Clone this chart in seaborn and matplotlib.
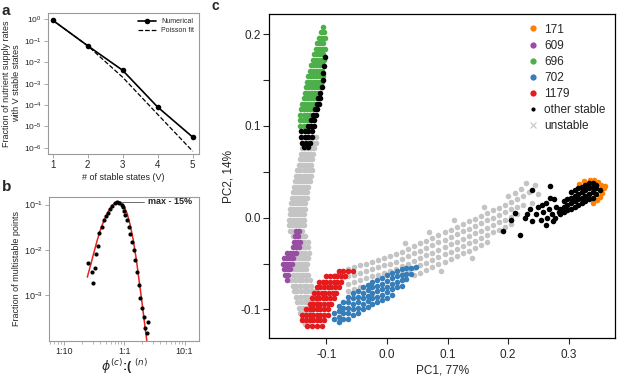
import numpy as np
import pandas as pd
import matplotlib
matplotlib.use('Agg')
import matplotlib.pyplot as plt
from matplotlib.lines import Line2D
from matplotlib.ticker import FixedLocator, LogLocator, NullFormatter
import seaborn as sns

# ---- panel a: fraction of supply rates with V stable states
n_states = [1, 2, 3, 4, 5]
frac_numerical = [0.92, 0.059, 0.0042, 8.1e-5, 3.2e-6]
frac_poisson = [0.92, 0.059, 0.0020, 3.7e-5, 7.0e-7]

# ---- panel b: fraction of multistable points vs supply ratio
ratio_pts = [0.247, 0.288, 0.310, 0.330, 0.344, 0.366, 0.390, 0.433, 0.466, 0.502,
             0.536, 0.586, 0.640, 0.710, 0.774, 0.836, 0.904, 0.951, 1.0, 1.052,
             1.107, 1.180, 1.256, 1.340, 1.429, 1.521, 1.622, 1.730, 1.841, 1.963,
             2.094, 2.228, 2.377, 2.529]
frac_pts = [0.00525, 0.00331, 0.00182, 0.00398, 0.00813, 0.0123, 0.0234, 0.0316, 0.0457, 0.0562,
            0.0661, 0.0794, 0.0933, 0.107, 0.112, 0.110, 0.100, 0.0871, 0.0741, 0.0589,
            0.0457, 0.0316, 0.0224, 0.0151, 0.0100, 0.00603, 0.00331, 0.00170, 0.000851, 0.000513,
            0.000339, 0.000186, 0.000145, 0.000251]
ratio_fit = [0.245, 0.282, 0.316, 0.355, 0.398, 0.447, 0.501, 0.562, 0.631, 0.708, 0.794,
             0.891, 1.0, 1.122, 1.259, 1.413, 1.585, 1.778, 1.995, 2.239, 2.399]
frac_fit = [0.00251, 0.00501, 0.00891, 0.0158, 0.0263, 0.0398, 0.0562, 0.0759, 0.0955, 0.110, 0.117,
            0.112, 0.0912, 0.0631, 0.0355, 0.0166, 0.00631, 0.00200, 0.000631, 0.000178, 0.0000891]
ratio_ticks = [0.1, 1, 10]
ratio_labels = ['1:10', '1:1', '10:1']

# ---- panel c: PCA of states, point clouds
# rows: (PC2, [PC1 values])  /  cols: (PC1, [PC2 values])
unstable_rows = [
    (0.088, [-0.133, -0.128, -0.123, -0.118]),
    (0.082, [-0.137, -0.132, -0.127, -0.122, -0.117]),
    (0.076, [-0.140, -0.135, -0.130, -0.125, -0.120]),
    (0.070, [-0.142, -0.137, -0.132, -0.127, -0.122]),
    (0.064, [-0.144, -0.139, -0.134, -0.129, -0.124]),
    (0.058, [-0.146, -0.141, -0.136, -0.131, -0.126]),
    (0.052, [-0.148, -0.143, -0.138, -0.133, -0.128, -0.124]),
    (0.046, [-0.150, -0.145, -0.140, -0.135, -0.130, -0.126]),
    (0.040, [-0.152, -0.147, -0.142, -0.137, -0.132, -0.128]),
    (0.034, [-0.154, -0.149, -0.144, -0.139, -0.134, -0.130]),
    (0.028, [-0.156, -0.151, -0.146, -0.141, -0.136, -0.132]),
    (0.022, [-0.157, -0.152, -0.147, -0.142, -0.137, -0.133]),
    (0.016, [-0.159, -0.154, -0.149, -0.144, -0.139, -0.135]),
    (0.010, [-0.160, -0.155, -0.150, -0.145, -0.140, -0.136]),
    (0.004, [-0.161, -0.156, -0.151, -0.146, -0.141, -0.137]),
    (-0.002, [-0.162, -0.157, -0.152, -0.147, -0.142, -0.138]),
    (-0.008, [-0.162, -0.157, -0.152, -0.147, -0.142, -0.138]),
    (-0.014, [-0.160, -0.155, -0.150, -0.145, -0.140]),
    (-0.020, [-0.156, -0.151, -0.146, -0.141, -0.136]),
    (-0.026, [-0.152, -0.147, -0.142, -0.137, -0.131]),
    (-0.032, [-0.151, -0.146, -0.141, -0.136, -0.130]),
    (-0.038, [-0.150, -0.145, -0.140, -0.135, -0.129]),
    (-0.044, [-0.150, -0.145, -0.140, -0.135, -0.130]),
    (-0.050, [-0.152, -0.147, -0.142, -0.137, -0.132]),
    (-0.056, [-0.154, -0.149, -0.144, -0.139, -0.134]),
    (-0.062, [-0.156, -0.151, -0.146, -0.141, -0.136, -0.131]),
    (-0.068, [-0.158, -0.152, -0.146, -0.140, -0.134, -0.128]),
    (-0.074, [-0.156, -0.150, -0.144, -0.138, -0.132, -0.126]),
    (-0.080, [-0.154, -0.148, -0.142, -0.136, -0.130, -0.124, -0.118]),
    (-0.086, [-0.150, -0.144, -0.138, -0.132, -0.126, -0.120]),
    (-0.092, [-0.148, -0.142, -0.136, -0.130, -0.124, -0.118]),
    (-0.098, [-0.145, -0.139, -0.133, -0.127, -0.121]),
    (-0.104, [-0.143, -0.137, -0.131, -0.125]),
    (-0.110, [-0.140, -0.134, -0.128]),
    (-0.116, [-0.136, -0.130]),
]
unstable_cols = [
    (-0.085, [-0.062, -0.070]), (-0.075, [-0.058, -0.066]),
    (-0.065, [-0.056, -0.064, -0.072, -0.080]), (-0.055, [-0.054, -0.062, -0.070, -0.078]),
    (-0.045, [-0.052, -0.060, -0.068, -0.076]), (-0.035, [-0.050, -0.058, -0.066]),
    (-0.025, [-0.048, -0.056, -0.064]), (-0.015, [-0.046, -0.054, -0.062]),
    (-0.005, [-0.044, -0.052, -0.060]), (0.005, [-0.042, -0.050, -0.058]),
    (0.015, [-0.040, -0.048, -0.056]), (0.025, [-0.037, -0.045, -0.053, -0.061]),
    (0.035, [-0.034, -0.042, -0.050, -0.058]), (0.045, [-0.031, -0.039, -0.047, -0.055, -0.063]),
    (0.055, [-0.028, -0.036, -0.044, -0.052, -0.060]), (0.065, [-0.025, -0.033, -0.041, -0.049, -0.057]),
    (0.075, [-0.022, -0.030, -0.038, -0.046, -0.054]), (0.085, [-0.019, -0.027, -0.035, -0.043, -0.051]),
    (0.095, [-0.016, -0.024, -0.032, -0.040, -0.048]), (0.105, [-0.013, -0.021, -0.029, -0.037, -0.045]),
    (0.115, [-0.010, -0.018, -0.026, -0.034, -0.042]), (0.125, [-0.007, -0.015, -0.023, -0.031, -0.039]),
    (0.135, [-0.004, -0.012, -0.020, -0.028, -0.036]), (0.145, [-0.001, -0.009, -0.017, -0.025, -0.033]),
    (0.155, [0.002, -0.006, -0.014, -0.022, -0.030]), (0.165, [0.005, -0.003, -0.011, -0.019, -0.027]),
    (0.175, [0.008, 0.000, -0.008, -0.016]), (0.185, [0.011, 0.003, -0.005, -0.013]),
    (0.195, [0.014, 0.006, -0.002, -0.010]), (0.205, [0.017, 0.009, 0.001, -0.007]),
    (0.215, [0.020, 0.012, 0.004]), (0.225, [0.024, 0.014]),
]
unstable_extra_x = [0.235, 0.245, 0.240, 0.250, 0.230, 0.222, 0.212, 0.030, 0.070, 0.110, 0.160, 0.090, 0.140, 0.200]
unstable_extra_y = [0.028, 0.036, 0.016, 0.026, 0.038, 0.031, 0.027, -0.028, -0.016, -0.002, 0.012, -0.058, -0.044, 0.024]

other_rows = [
    (0.175, [-0.103]), (0.165, [-0.104]), (0.158, [-0.106]), (0.150, [-0.106]), (0.142, [-0.107]),
    (0.136, [-0.111]), (0.130, [-0.114, -0.110]), (0.124, [-0.116, -0.112]), (0.118, [-0.119, -0.115]),
    (0.112, [-0.123, -0.118]), (0.106, [-0.126, -0.121]), (0.100, [-0.130, -0.125, -0.120]),
    (0.094, [-0.142, -0.136, -0.130, -0.124]), (0.088, [-0.142, -0.136, -0.130, -0.124]),
    (0.082, [-0.140, -0.134, -0.128]), (0.077, [-0.137, -0.131]),
]
other_cols = [
    (0.286, [0.004, 0.010]), (0.292, [0.006, 0.012, 0.018]), (0.298, [0.008, 0.014, 0.020]),
    (0.304, [0.010, 0.016, 0.022, 0.028]), (0.310, [0.012, 0.018, 0.024, 0.030]),
    (0.316, [0.014, 0.020, 0.026, 0.032]), (0.322, [0.016, 0.022, 0.028, 0.034]),
    (0.328, [0.018, 0.024, 0.030, 0.036]), (0.334, [0.020, 0.026, 0.032, 0.038]),
    (0.340, [0.022, 0.028, 0.034, 0.038]), (0.346, [0.026, 0.032, 0.036]), (0.352, [0.030]),
]
other_extra_x = [0.192, 0.205, 0.212, 0.220, 0.228, 0.236, 0.240, 0.246, 0.250, 0.254, 0.258, 0.262,
                 0.265, 0.268, 0.272, 0.276, 0.262, 0.280, 0.284, 0.239, 0.269, 0.278, 0.270, 0.232,
                 0.256, 0.274]
other_extra_y = [-0.015, -0.003, 0.005, -0.019, 0.000, 0.010, -0.004, 0.004, 0.012, -0.002, 0.006, 0.016,
                 0.000, 0.010, 0.004, 0.020, -0.008, 0.012, 0.006, 0.030, 0.035, 0.000, 0.022, 0.004,
                 0.014, -0.004]

s171_x = [0.335, 0.342, 0.349, 0.354, 0.358, 0.356, 0.352, 0.347, 0.326, 0.318, 0.340, 0.360]
s171_y = [0.041, 0.041, 0.039, 0.036, 0.032, 0.027, 0.023, 0.019, 0.040, 0.037, 0.016, 0.035]

s609_rows = [
    (-0.014, [-0.150, -0.145]), (-0.020, [-0.152, -0.147]), (-0.026, [-0.154, -0.149, -0.144]),
    (-0.032, [-0.156, -0.151, -0.146]), (-0.038, [-0.165, -0.160, -0.155, -0.150]),
    (-0.044, [-0.170, -0.165, -0.160, -0.155]), (-0.050, [-0.172, -0.167, -0.162, -0.157]),
    (-0.056, [-0.170, -0.165, -0.160]), (-0.062, [-0.168, -0.163]), (-0.068, [-0.166]),
]
s696_rows = [
    (0.208, [-0.106]), (0.202, [-0.109, -0.104]), (0.196, [-0.112, -0.107, -0.102]),
    (0.190, [-0.115, -0.110, -0.105]), (0.184, [-0.118, -0.113, -0.108, -0.103]),
    (0.178, [-0.120, -0.115, -0.110, -0.105]), (0.172, [-0.123, -0.118, -0.113, -0.108, -0.104]),
    (0.166, [-0.125, -0.120, -0.115, -0.110, -0.105]), (0.160, [-0.128, -0.123, -0.118, -0.113, -0.108]),
    (0.154, [-0.130, -0.125, -0.120, -0.115, -0.110, -0.106]),
    (0.148, [-0.132, -0.127, -0.122, -0.117, -0.112, -0.107]),
    (0.142, [-0.134, -0.129, -0.124, -0.119, -0.114, -0.109]),
    (0.136, [-0.136, -0.131, -0.126, -0.121, -0.116]), (0.130, [-0.138, -0.133, -0.128, -0.123, -0.118]),
    (0.124, [-0.140, -0.135, -0.130, -0.125, -0.120]), (0.118, [-0.142, -0.137, -0.132, -0.127, -0.122]),
    (0.112, [-0.143, -0.138, -0.133, -0.128]), (0.106, [-0.144, -0.139, -0.134, -0.129]),
    (0.100, [-0.143, -0.138, -0.133]),
]
s702_cols = [
    (-0.088, [-0.104, -0.110]), (-0.080, [-0.096, -0.102, -0.108, -0.114]),
    (-0.072, [-0.092, -0.098, -0.104, -0.110]), (-0.064, [-0.086, -0.092, -0.098, -0.104, -0.110]),
    (-0.056, [-0.082, -0.088, -0.094, -0.100, -0.106]), (-0.048, [-0.080, -0.086, -0.092, -0.098, -0.104]),
    (-0.040, [-0.076, -0.082, -0.088, -0.094, -0.100]), (-0.032, [-0.073, -0.079, -0.085, -0.091, -0.097]),
    (-0.024, [-0.070, -0.076, -0.082, -0.088, -0.094]), (-0.016, [-0.068, -0.074, -0.080, -0.086, -0.092]),
    (-0.008, [-0.066, -0.072, -0.078, -0.084, -0.090]), (0.000, [-0.063, -0.069, -0.075, -0.081, -0.087]),
    (0.008, [-0.060, -0.066, -0.072, -0.078, -0.084]), (0.016, [-0.058, -0.064, -0.070, -0.076]),
    (0.024, [-0.056, -0.062, -0.068, -0.074]), (0.032, [-0.055, -0.061, -0.067]),
    (0.040, [-0.055, -0.061]), (0.048, [-0.054]),
]
s1179_rows = [
    (-0.058, [-0.080, -0.072, -0.064, -0.056]),
    (-0.064, [-0.100, -0.094, -0.088, -0.082, -0.076, -0.070]),
    (-0.070, [-0.112, -0.106, -0.100, -0.094, -0.088, -0.082, -0.076]),
    (-0.076, [-0.116, -0.110, -0.104, -0.098, -0.092, -0.086, -0.080]),
    (-0.082, [-0.120, -0.114, -0.108, -0.102, -0.096, -0.090, -0.084]),
    (-0.088, [-0.124, -0.118, -0.112, -0.106, -0.100, -0.094, -0.088]),
    (-0.094, [-0.128, -0.122, -0.116, -0.110, -0.104, -0.098, -0.092]),
    (-0.100, [-0.134, -0.128, -0.122, -0.116, -0.110, -0.104, -0.098]),
    (-0.106, [-0.140, -0.134, -0.128, -0.122, -0.116, -0.110, -0.104, -0.098]),
    (-0.112, [-0.140, -0.134, -0.128, -0.122, -0.116, -0.110, -0.104]),
    (-0.118, [-0.132, -0.124, -0.116, -0.108]),
]

pc_groups = ['unstable', '171', '609', '696', '702', '1179', 'other stable']
pc_colors = {'171': '#ff7f00', '609': '#984ea3', '696': '#4daf4a', '702': '#377eb8',
             '1179': '#e41a1c', 'other stable': 'black', 'unstable': '#c4c4c4'}


def from_rows(rows):
    return [(x, y) for y, xs in rows for x in xs]


def from_cols(cols):
    return [(x, y) for x, ys in cols for y in ys]


clouds = {
    'unstable': from_rows(unstable_rows) + from_cols(unstable_cols) + list(zip(unstable_extra_x, unstable_extra_y)),
    '171': list(zip(s171_x, s171_y)),
    '609': from_rows(s609_rows),
    '696': from_rows(s696_rows),
    '702': from_cols(s702_cols),
    '1179': from_rows(s1179_rows),
    'other stable': from_rows(other_rows) + from_cols(other_cols) + list(zip(other_extra_x, other_extra_y)),
}
pc = pd.DataFrame([{'PC1': x, 'PC2': y, 'state': k} for k, pts in clouds.items() for x, y in pts])

sns.set_style('ticks')
plt.rcParams['font.family'] = ['Liberation Sans', 'DejaVu Sans']

fig = plt.figure(figsize=(6.17, 3.81), dpi=100)
frame_gray = '#9a9a9a'

# ---------------- panel a
ax_a = fig.add_axes([0.078, 0.596, 0.2445, 0.369])
sns.lineplot(x=n_states, y=frac_numerical, ax=ax_a, color='black', lw=1.2,
             marker='o', markersize=4, markeredgewidth=0, label='Numerical')
sns.lineplot(x=n_states, y=frac_poisson, ax=ax_a, color='black', lw=0.9,
             linestyle='--', label='Poisson fit')
ax_a.set_yscale('log')
ax_a.set_xlim(0.874, 5.18)
ax_a.set_ylim(10**-6.28, 10**0.28)
ax_a.set_xticks(n_states)
ax_a.yaxis.set_major_locator(FixedLocator([10.0**k for k in range(-6, 1)]))
ax_a.yaxis.set_minor_locator(FixedLocator([]))
ax_a.tick_params(axis='x', labelsize=7, length=3, width=0.6, color=frame_gray, pad=1.5)
ax_a.tick_params(axis='y', labelsize=6, length=3, width=0.6, color=frame_gray, pad=1.5)
ax_a.set_xlabel('# of stable states (V)', fontsize=6.5, labelpad=2)
ax_a.set_ylabel('Fraction of nutrient supply rates\nwith V stable states', fontsize=6.5, labelpad=2)
ax_a.legend(loc='upper right', frameon=False, fontsize=5, handlelength=2.6,
            borderaxespad=0.3, labelspacing=0.3)
for sp in ax_a.spines.values():
    sp.set_visible(True)
    sp.set_color(frame_gray)
    sp.set_linewidth(0.8)

# ---------------- panel b
ax_b = fig.add_axes([0.080, 0.106, 0.2425, 0.376])
sns.lineplot(x=ratio_fit, y=frac_fit, ax=ax_b, color='#e8231f', lw=1.1)
sns.scatterplot(x=ratio_pts, y=frac_pts, ax=ax_b, color='black', s=9, linewidth=0, zorder=3)
ax_b.set_xscale('log')
ax_b.set_yscale('log')
ax_b.set_xlim(10**-1.24, 10**1.24)
ax_b.set_ylim(1e-4, 10**-0.84)
ax_b.set_xticks(ratio_ticks)
ax_b.set_xticklabels(ratio_labels)
ax_b.xaxis.set_minor_locator(LogLocator(base=10, subs=np.arange(2, 10)))
ax_b.xaxis.set_minor_formatter(NullFormatter())
ax_b.yaxis.set_major_locator(FixedLocator([1e-3, 1e-2, 1e-1]))
ax_b.yaxis.set_minor_locator(FixedLocator([]))
ax_b.tick_params(axis='both', which='major', labelsize=6.5, length=3, width=0.6,
                 color=frame_gray, pad=1.5)
ax_b.tick_params(axis='x', which='minor', length=1.8, width=0.5, color=frame_gray)
ax_b.plot([0.92, 2.14], [0.116, 0.116], color='#555555', lw=0.6)
ax_b.text(2.5, 0.116, 'max - 15%', fontsize=6.5, fontweight='bold', va='center', ha='left')
ax_b.set_xlabel(r'$\phi^{(c)}$:( $^{(n)}$', fontsize=9, fontweight='bold', labelpad=1)
ax_b.set_ylabel('Fraction of multistable points', fontsize=6.5, labelpad=2)
for sp in ax_b.spines.values():
    sp.set_visible(True)
    sp.set_color(frame_gray)
    sp.set_linewidth(0.8)

# ---------------- panel c
ax_c = fig.add_axes([0.436, 0.112, 0.561, 0.851])
for name in pc_groups:
    sub = pc[pc['state'] == name]
    sns.scatterplot(data=sub, x='PC1', y='PC2', ax=ax_c, color=pc_colors[name],
                    s=16, linewidth=0, legend=False)
ax_c.set_xlim(-0.195, 0.377)
ax_c.set_ylim(-0.1315, 0.222)
ax_c.set_xticks([-0.1, 0.0, 0.1, 0.2, 0.3])
ax_c.set_xticklabels(['-0.1', '0.0', '0.1', '0.2', '0.3'])
ax_c.set_yticks([-0.1, -0.05, 0.0, 0.05, 0.1, 0.15, 0.2])
ax_c.set_yticklabels(['-0.1', '', '0.0', '', '0.1', '', '0.2'])
ax_c.tick_params(axis='both', labelsize=8.5, length=4, width=0.8)
ax_c.tick_params(axis='x', pad=4)
ax_c.tick_params(axis='y', pad=2)
ax_c.set_xlabel('PC1, 77%', fontsize=8.5, labelpad=2)
ax_c.set_ylabel('PC2, 14%', fontsize=8.5, labelpad=4)
for sp in ax_c.spines.values():
    sp.set_visible(True)
    sp.set_color('black')
    sp.set_linewidth(0.9)

handles = []
for name in ['171', '609', '696', '702', '1179']:
    handles.append(Line2D([], [], ls='none', marker='o', markersize=4.5, markeredgewidth=0,
                          color=pc_colors[name], label=name))
handles.append(Line2D([], [], ls='none', marker='o', markersize=3, markeredgewidth=0,
                      color='black', label='other stable'))
handles.append(Line2D([], [], ls='none', marker='x', markersize=4, markeredgewidth=0.8,
                      color=pc_colors['unstable'], label='unstable'))
ax_c.legend(handles=handles, loc='upper right', frameon=False, fontsize=8.5,
            handlelength=0.8, handletextpad=0.6, labelspacing=0.35, borderaxespad=0.4)

# panel letters
fig.text(0.003, 0.972, 'a', fontsize=11, fontweight='bold', va='center')
fig.text(0.003, 0.51, 'b', fontsize=11, fontweight='bold', va='center')
fig.text(0.342, 0.985, 'c', fontsize=10, fontweight='bold', va='center')

fig.savefig('out.png', dpi=100)
